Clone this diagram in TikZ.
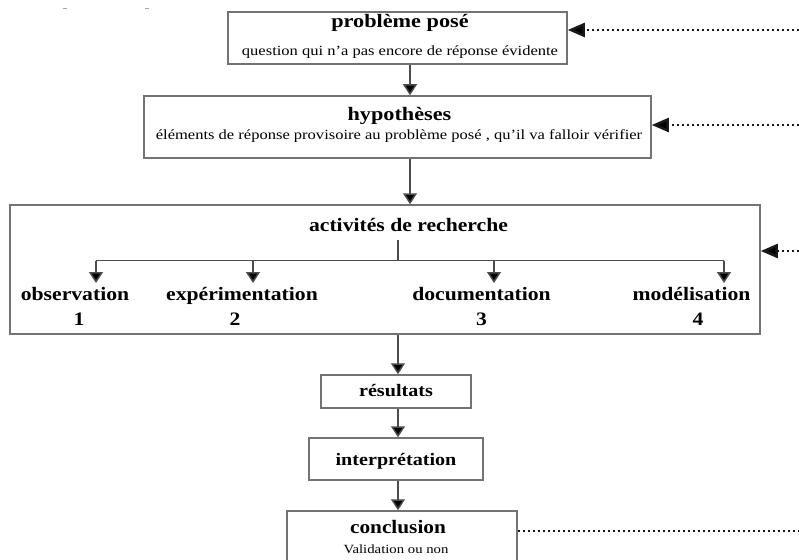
\documentclass[tikz,border=0pt]{standalone}
\usepackage{graphicx}
\usepackage{fontspec}
\setmainfont{Liberation Serif}
\usetikzlibrary{arrows.meta}
\newcommand\widetxt[2]{\scalebox{#1}[1]{#2}}
\tikzset{
  box/.style={draw=black!55, line width=1.5pt, rectangle, inner sep=0pt},
  ttl/.style={font=\fontsize{19}{21}\selectfont\bfseries, inner sep=0pt, anchor=base},
  ttls/.style={font=\fontsize{17.5}{20}\selectfont\bfseries, inner sep=0pt, anchor=base},
  sub/.style={font=\fontsize{14}{16}\selectfont, inner sep=0pt, anchor=base},
  subs/.style={font=\fontsize{12.5}{14}\selectfont, inner sep=0pt, anchor=base},
  ln/.style={line width=1.5pt, draw=black!70},
  arr/.style={ln, -{Triangle[width=14pt,length=11pt,fill=black]}},
  dots/.style={line width=2.5pt, dash pattern=on 2.5pt off 2.5pt, draw=black!90},
  dotarr/.style={dots, -{Triangle[width=14pt,length=17pt,fill=black]}},
}
\begin{document}
\begin{tikzpicture}[x=1pt,y=-1pt]
\useasboundingbox (0,0) rectangle (799,559);
\clip (0,0) rectangle (799,559);
% tiny marks top left
\draw[gray!70, line width=1pt] (63,9) -- (67,9);
\draw[gray!70, line width=1pt] (145,9) -- (149,9);
% boxes
\node[box, minimum width=339pt, minimum height=52pt] (prob) at (397.5,38) {};
\node[box, minimum width=507pt, minimum height=62pt] (hyp) at (397.5,127) {};
\node[box, minimum width=750pt, minimum height=129pt] (act) at (385,269.5) {};
\node[box, minimum width=150pt, minimum height=33pt] (res) at (396,391.5) {};
\node[box, minimum width=174pt, minimum height=42pt] (int) at (396,459) {};
\node[box, minimum width=230pt, minimum height=70pt] (con) at (402,546) {};
% texts
\node[ttl] (probT) at (400,28) {\widetxt{1.17}{problème posé}};
\node[sub] (probS) at (400,56) {\widetxt{1.18}{question qui n'a pas encore de réponse évidente}};
\node[ttl] (hypT) at (399.5,121) {\widetxt{1.17}{hypothèses}};
\node[sub] (hypS) at (399,139) {\widetxt{1.18}{éléments de réponse provisoire au problème posé , qu'il va falloir vérifier}};
\node[ttl] (actT) at (408.5,231) {\widetxt{1.14}{activités de recherche}};
\node[ttl] (obs) at (75,300) {\widetxt{1.14}{observation}};
\node[ttl] (exp) at (242,300) {\widetxt{1.14}{expérimentation}};
\node[ttl] (doc) at (481.5,300) {\widetxt{1.14}{documentation}};
\node[ttl] (mod) at (691.5,300) {\widetxt{1.14}{modélisation}};
\node[ttl] (n1) at (79,325) {\widetxt{1.14}{1}};
\node[ttl] (n2) at (235,325) {\widetxt{1.14}{2}};
\node[ttl] (n3) at (481.5,325) {\widetxt{1.14}{3}};
\node[ttl] (n4) at (698,325) {\widetxt{1.14}{4}};
\node[ttls] (resT) at (396,396) {\widetxt{1.15}{résultats}};
\node[ttls] (intT) at (396,465) {\widetxt{1.15}{interprétation}};
\node[ttl] (conT) at (398,533) {\widetxt{1.12}{conclusion}};
\node[subs] (conS) at (396,553) {\widetxt{1.18}{Validation ou non}};
% branch coordinates
\coordinate (b0) at (398,240);
\coordinate (b1) at (398,260.5);
\coordinate (bl) at (96,260.5);
\coordinate (br) at (724,260.5);
\coordinate (s2) at (253,260.5);
\coordinate (s3) at (494,260.5);
\coordinate (a1) at (96,283);
\coordinate (a2) at (253,283);
\coordinate (a3) at (494,283);
\coordinate (a4) at (724,283);
\draw[ln] (b0) -- (b1);
\draw[ln] (bl) -- (br);
\draw[arr] (bl) -- (a1);
\draw[arr] (s2) -- (a2);
\draw[arr] (s3) -- (a3);
\draw[arr] (br) -- (a4);
% main arrows
\draw[arr] (prob.south -| 410,0) -- (hyp.north -| 410,0);
\draw[arr] (hyp.south -| 410,0) -- (act.north -| 410,0);
\draw[arr] (act.south -| 398,0) -- (res.north -| 398,0);
\draw[arr] (res.south -| 398,0) -- (int.north -| 398,0);
\draw[arr] (int.south -| 398,0) -- (con.north -| 398,0);
% feedback dotted
\coordinate (e1) at (799,30);
\coordinate (e2) at (799,125);
\coordinate (e3) at (799,251);
\coordinate (e4) at (799,531);
\draw[dotarr] (e1) -- (e1 -| prob.east);
\draw[dotarr] (e2) -- (e2 -| hyp.east);
\draw[dotarr] (e3) -- (e3 -| act.east);
\draw[dots] (e4 -| con.east) -- (e4);
\end{tikzpicture}
\end{document}
